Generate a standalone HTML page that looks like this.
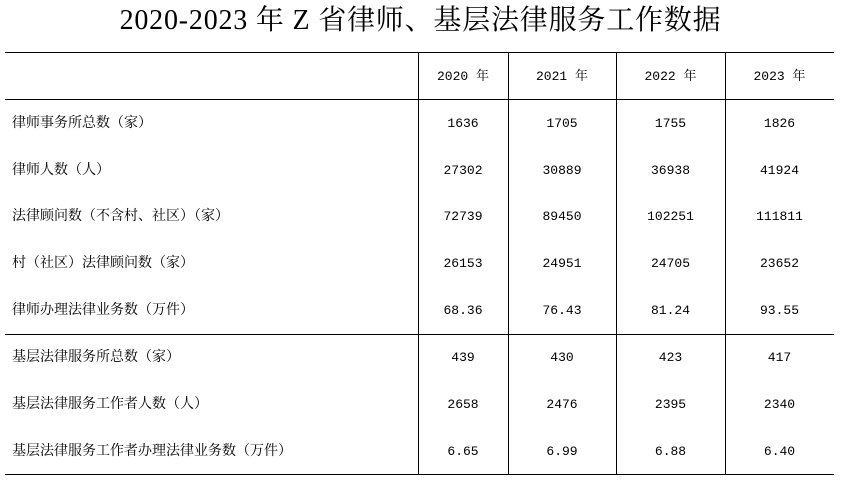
<!DOCTYPE html>
<html><head><meta charset="utf-8"><style>
body{margin:0;width:841px;height:494px;background:#fff;position:relative;overflow:hidden;font-family:"Liberation Serif","Noto Serif CJK SC",serif;color:#000}
.t{position:absolute;left:0;width:841px;top:4px;text-align:center;font-size:28px;line-height:34px;letter-spacing:0.8px}
.h{position:absolute;background:#000;height:1px}
.v{position:absolute;background:#000;width:1px}
.c{position:absolute;font-size:14px;line-height:20px;white-space:nowrap}
.n{text-align:center;font-family:"Liberation Mono","Noto Serif CJK SC",monospace;font-size:13px}
</style></head><body>
<div class="t">2020-2023 年 Z 省律师、基层法律服务工作数据</div>
<div class="h" style="left:5px;width:829px;top:52px"></div>
<div class="h" style="left:5px;width:829px;top:99px"></div>
<div class="h" style="left:5px;width:829px;top:334px"></div>
<div class="h" style="left:5px;width:829px;top:474px"></div>
<div class="v" style="left:418px;top:52px;height:423px"></div>
<div class="v" style="left:508px;top:52px;height:423px"></div>
<div class="v" style="left:616px;top:52px;height:423px"></div>
<div class="v" style="left:725px;top:52px;height:423px"></div>
<div id="g"></div>
<script>
var cols=[[418,508],[508,616],[616,725],[725,834]];
var rows=[
["",["2020 年","2021 年","2022 年","2023 年"],77],
["律师事务所总数（家）",["1636","1705","1755","1826"],124],
["律师人数（人）",["27302","30889","36938","41924"],171],
["法律顾问数（不含村、社区）（家）",["72739","89450","102251","111811"],217],
["村（社区）法律顾问数（家）",["26153","24951","24705","23652"],264],
["律师办理法律业务数（万件）",["68.36","76.43","81.24","93.55"],311],
["基层法律服务所总数（家）",["439","430","423","417"],358],
["基层法律服务工作者人数（人）",["2658","2476","2395","2340"],405],
["基层法律服务工作者办理法律业务数（万件）",["6.65","6.99","6.88","6.40"],452]];
var h="";
rows.forEach(function(r){
 if(r[0])h+='<div class="c" style="left:12px;top:'+(r[2]-10)+'px">'+r[0]+'</div>';
 r[1].forEach(function(v,i){h+='<div class="c n" style="left:'+cols[i][0]+'px;width:'+(cols[i][1]-cols[i][0])+'px;top:'+(r[2]-10)+'px">'+v+'</div>';});
});
document.getElementById("g").innerHTML=h;
</script>
</body></html>
